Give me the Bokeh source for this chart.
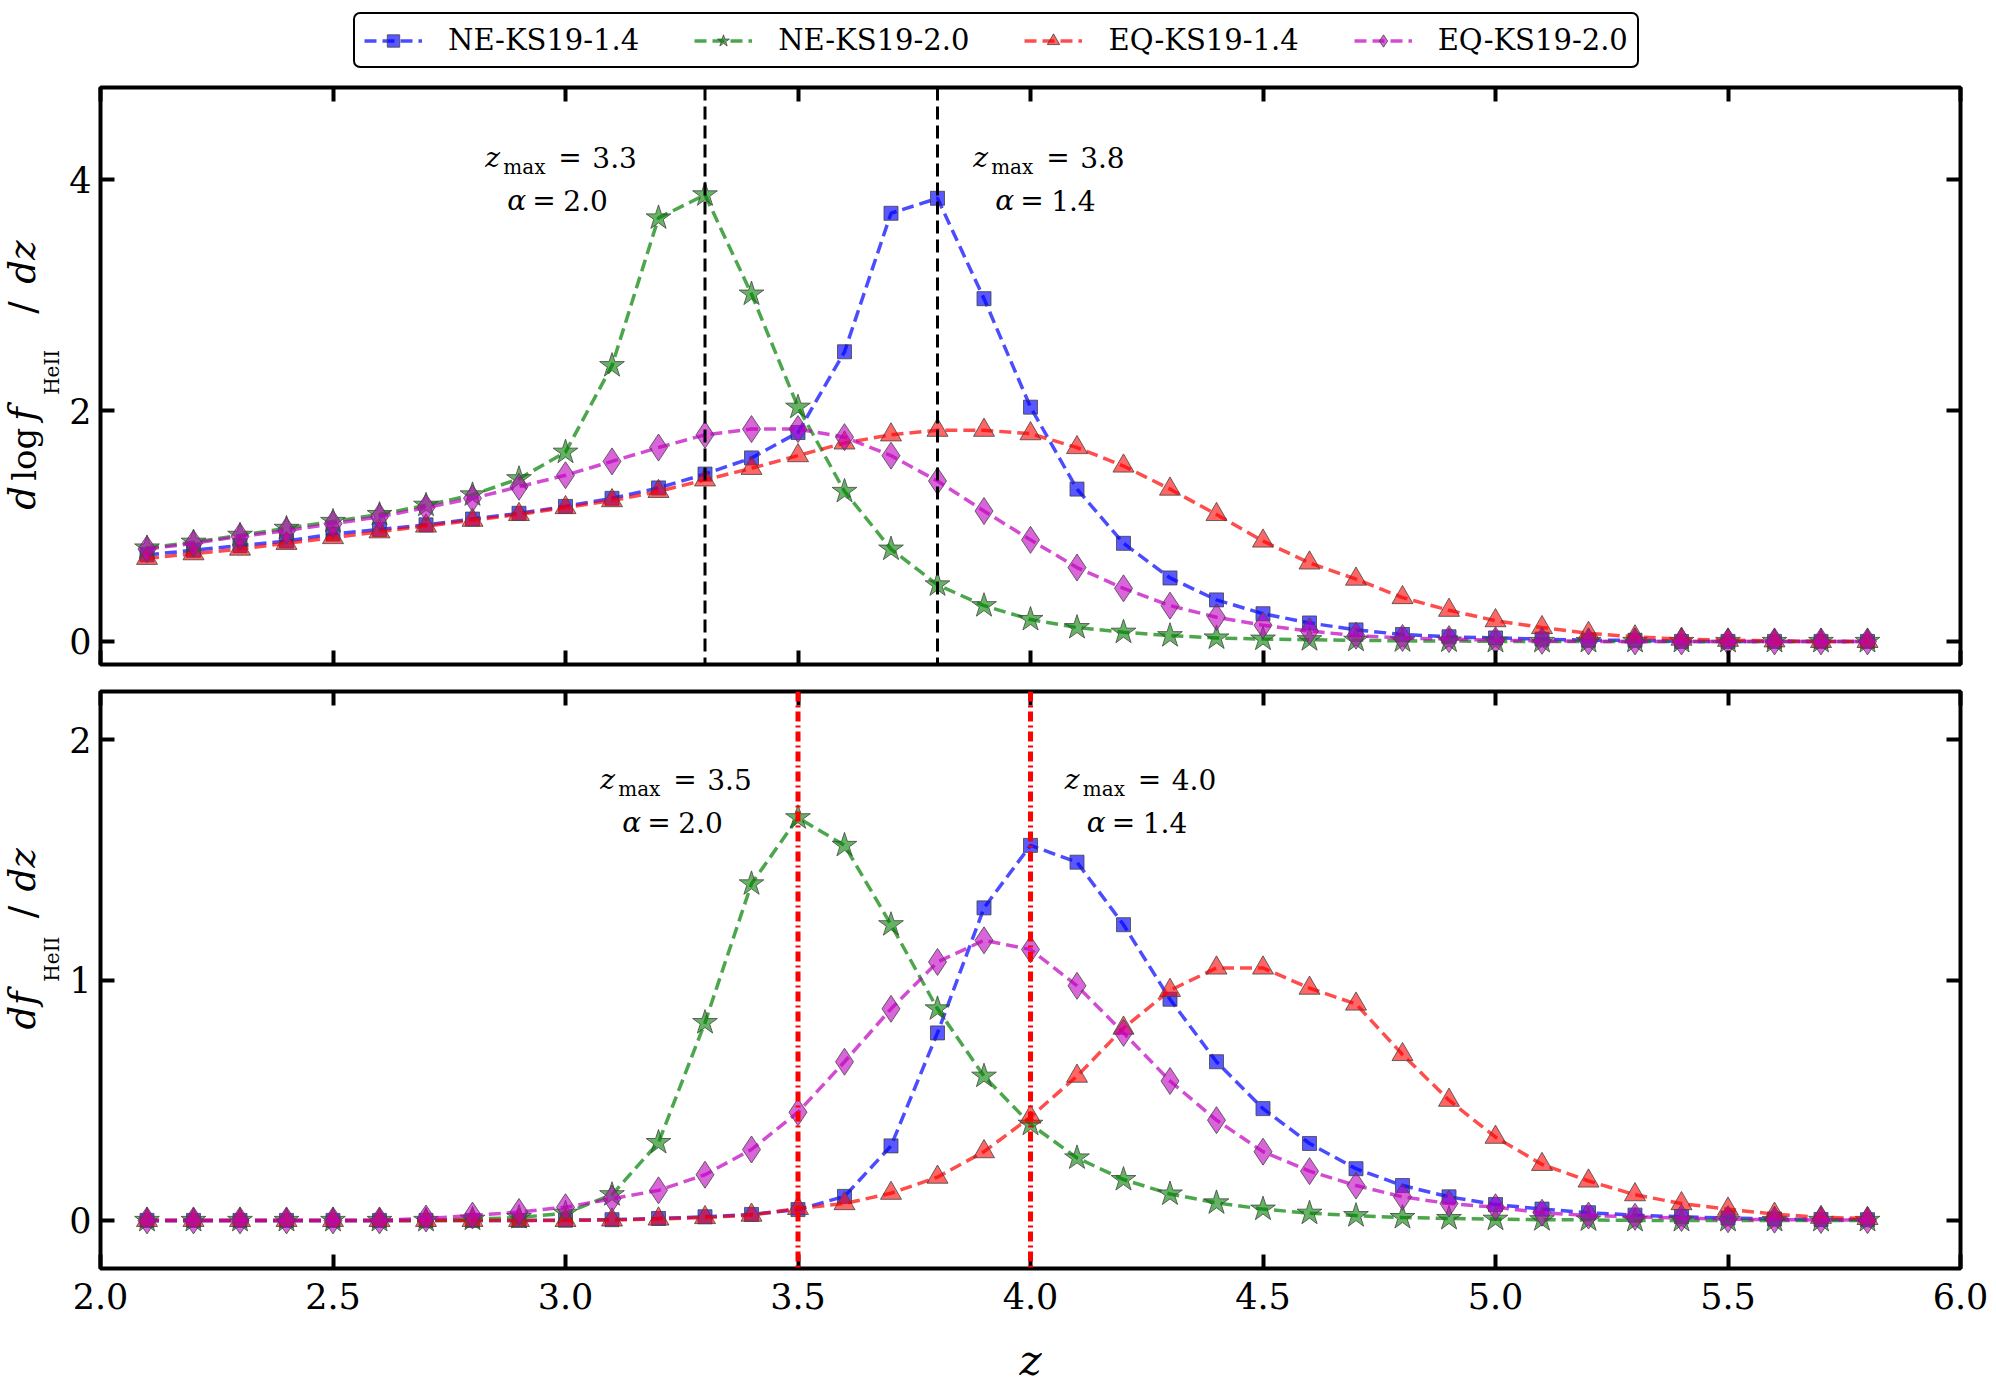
import math
from bokeh.plotting import figure
from bokeh.models import (Range1d, LinearAxis, FixedTicker, Span, Label, Legend,
                          LegendItem, PrintfTickFormatter)
from bokeh.layouts import column, row
from bokeh.embed import file_html
from bokeh.resources import INLINE

# ---------------- data ----------------
z = [2.1, 2.2, 2.3, 2.4, 2.5, 2.6, 2.7, 2.8, 2.9, 3.0,
     3.1, 3.2, 3.3, 3.4, 3.5, 3.6, 3.7, 3.8, 3.9, 4.0,
     4.1, 4.2, 4.3, 4.4, 4.5, 4.6, 4.7, 4.8, 4.9, 5.0,
     5.1, 5.2, 5.3, 5.4, 5.5, 5.6, 5.7, 5.8]

series_names = ["NE-KS19-1.4", "NE-KS19-2.0", "EQ-KS19-1.4", "EQ-KS19-2.0"]

# top panel: d log f_HeII / dz
ne14_top = [0.75, 0.79, 0.83, 0.87, 0.93, 0.97, 1.01, 1.06, 1.11, 1.17,
            1.24, 1.33, 1.45, 1.59, 1.81, 2.51, 3.71, 3.84, 2.97, 2.03,
            1.32, 0.85, 0.55, 0.36, 0.24, 0.16, 0.10, 0.06, 0.04, 0.03,
            0.02, 0.01, 0.01, 0.0, 0.0, 0.0, 0.0, 0.0]
ne20_top = [0.81, 0.86, 0.92, 0.98, 1.04, 1.10, 1.18, 1.27, 1.41, 1.64,
            2.39, 3.67, 3.87, 3.01, 2.03, 1.30, 0.80, 0.49, 0.31, 0.19,
            0.12, 0.08, 0.05, 0.03, 0.02, 0.015, 0.01, 0.005, 0.004, 0.0,
            0.0, 0.0, 0.0, 0.0, 0.0, 0.0, 0.0, 0.0]
eq14_top = [0.72, 0.76, 0.80, 0.85, 0.90, 0.95, 1.00, 1.05, 1.10, 1.16,
            1.22, 1.30, 1.40, 1.50, 1.61, 1.72, 1.79, 1.83, 1.83, 1.80,
            1.68, 1.52, 1.32, 1.10, 0.87, 0.68, 0.54, 0.38, 0.27, 0.18,
            0.12, 0.07, 0.04, 0.02, 0.01, 0.005, 0.0, 0.0]
eq20_top = [0.80, 0.85, 0.91, 0.96, 1.02, 1.08, 1.16, 1.24, 1.34, 1.44,
            1.56, 1.68, 1.79, 1.84, 1.84, 1.77, 1.61, 1.39, 1.13, 0.88,
            0.64, 0.46, 0.31, 0.21, 0.14, 0.09, 0.05, 0.03, 0.02, 0.01,
            0.005, 0.0, 0.0, 0.0, 0.0, 0.0, 0.0, 0.0]

# bottom panel: d f_HeII / dz
ne14_bot = [0.0, 0.0, 0.0, 0.0, 0.0, 0.0, 0.0, 0.0, 0.0, 0.001,
            0.003, 0.008, 0.015, 0.025, 0.045, 0.10, 0.31, 0.78, 1.30, 1.56,
            1.49, 1.23, 0.92, 0.66, 0.465, 0.32, 0.215, 0.145, 0.098, 0.066,
            0.047, 0.032, 0.022, 0.015, 0.010, 0.006, 0.004, 0.003]
ne20_bot = [0.0, 0.0, 0.0, 0.0, 0.0, 0.0, 0.0, 0.005, 0.012, 0.03,
            0.107, 0.324, 0.823, 1.40, 1.675, 1.56, 1.23, 0.88, 0.60, 0.40,
            0.26, 0.17, 0.11, 0.073, 0.047, 0.03, 0.02, 0.012, 0.008, 0.005,
            0.003, 0.002, 0.0, 0.0, 0.0, 0.0, 0.0, 0.0]
eq14_bot = [0.0, 0.0, 0.0, 0.0, 0.0, 0.0, 0.0, 0.0, 0.0, 0.0,
            0.002, 0.006, 0.012, 0.022, 0.05, 0.07, 0.113, 0.18, 0.286, 0.43,
            0.60, 0.80, 0.957, 1.05, 1.05, 0.966, 0.90, 0.69, 0.50, 0.346,
            0.233, 0.164, 0.107, 0.07, 0.047, 0.026, 0.013, 0.008]
eq20_bot = [0.0, 0.0, 0.0, 0.0, 0.0, 0.0, 0.008, 0.02, 0.035, 0.055,
            0.09, 0.125, 0.19, 0.295, 0.45, 0.66, 0.88, 1.075, 1.165, 1.127,
            0.976, 0.78, 0.58, 0.417, 0.286, 0.205, 0.145, 0.098, 0.07, 0.055,
            0.032, 0.02, 0.015, 0.01, 0.005, 0.003, 0.002, 0.001]

x_ticks = [2.0, 2.5, 3.0, 3.5, 4.0, 4.5, 5.0, 5.5, 6.0]
top_y_ticks = [0, 2, 4]
bot_y_ticks = [0, 1, 2]
top_vlines = [3.3, 3.8]
bot_vlines = [3.5, 4.0]
top_ann = [(3.004, "3.3", "2.0"), (4.053, "3.8", "1.4")]
bot_ann = [(3.251, "3.5", "2.0"), (4.250, "4.0", "1.4")]

# ---------------- styling ----------------
FONT = "DejaVu Serif"
colors = ["#0000ff", "#008000", "#ff0000", "#bf00bf"]
markers = ["square", "star", "triangle", "diamond"]
msizes = [14, 26, 21, 27]
falpha = [0.65, 0.6, 0.6, 0.6]
BASE_CORR = 0.35   # empirical shift of alphabetic baseline (fraction of font size)

YL_W = 66
MAIN_W = 1996 - YL_W


def make_fig(height, top, bottom, yr):
    p = figure(width=MAIN_W, height=height, x_range=Range1d(2.0, 6.0), y_range=Range1d(*yr),
               output_backend="svg", toolbar_location=None,
               min_border_left=99 - YL_W, min_border_right=36,
               min_border_top=top, min_border_bottom=bottom,
               x_axis_location=None, y_axis_location=None)
    p.grid.visible = False
    p.outline_line_color = "black"
    p.outline_line_width = 4
    p.outline_line_alpha = 1.0
    p.background_fill_color = "white"
    p.border_fill_color = "white"
    return p


def blank_fig(width, height, xr, yr):
    p = figure(width=width, height=height, x_range=Range1d(*xr), y_range=Range1d(*yr),
               output_backend="svg", toolbar_location=None,
               min_border_left=0, min_border_right=0, min_border_top=0, min_border_bottom=0,
               x_axis_location=None, y_axis_location=None)
    p.grid.visible = False
    p.outline_line_color = None
    p.background_fill_color = "white"
    p.border_fill_color = "white"
    return p


def add_axis(p, side, ticks, labels, fmt=None, label=None):
    ax = LinearAxis(ticker=FixedTicker(ticks=ticks), axis_line_color=None,
                    major_tick_in=14, major_tick_out=0, major_tick_line_width=4,
                    major_tick_line_color="black", minor_tick_line_color=None)
    if labels:
        ax.major_label_text_font = FONT
        ax.major_label_text_font_size = "35px"
        ax.major_label_text_color = "black"
        ax.major_label_standoff = 14 if side == "below" else 9
        if fmt:
            ax.formatter = PrintfTickFormatter(format=fmt)
    else:
        ax.major_label_text_font_size = "1px"
        ax.major_label_text_color = None
        ax.major_label_standoff = 0
    if label:
        ax.axis_label = label
        ax.axis_label_text_font = FONT
        ax.axis_label_text_font_style = "italic"
        ax.axis_label_text_font_size = "42px"
        ax.axis_label_standoff = 24
        ax.axis_label_text_color = "black"
    p.add_layout(ax, side)


def add_series(p, ys):
    out = []
    for i, y in enumerate(ys):
        ln = p.line(z, y, line_color=colors[i], line_alpha=0.7, line_width=3.5, line_dash="12 6")
        sc = p.scatter(z, y, marker=markers[i], size=msizes[i], fill_color=colors[i],
                       fill_alpha=falpha[i], line_color="#444444", line_alpha=0.8, line_width=1)
        out.append((ln, sc))
    return out


def add_ylabel(p, pieces, fig_h):
    # pieces: (text, size, style, baseline_x_px, start_y_px_from_top_of_this_fig)
    for text, size, style, bx, sy in pieces:
        p.add_layout(Label(x=bx - BASE_CORR * size, y=fig_h - sy, text=text,
                           angle=math.pi / 2, text_font=FONT, text_font_size=f"{size}px",
                           text_font_style=style, text_align="left",
                           text_baseline="alphabetic", text_color="black"))


def add_ann(p, cx, zval, aval, yb1_px, yb2_px, frame_top_px, ytop, ppu):
    def ydata(px, size):
        return ytop - (px - frame_top_px - BASE_CORR * size) / ppu
    for text, size, style, xo, ypx in [("z", 28, "italic", -82, yb1_px),
                                       ("max", 20, "normal", -64, yb1_px + 6.7),
                                       ("=", 28, "normal", -9, yb1_px),
                                       (zval, 28, "normal", 25, yb1_px),
                                       ("\u03b1", 28, "italic", -60, yb2_px),
                                       ("=", 28, "normal", -35, yb2_px),
                                       (aval, 28, "normal", -4, yb2_px)]:
        p.add_layout(Label(x=cx, y=ydata(ypx, size), x_offset=xo, text=text, text_font=FONT,
                           text_font_size=f"{size}px", text_font_style=style,
                           text_align="left", text_baseline="alphabetic", text_color="black"))


# ---------------- legend strip ----------------
LEG_H = 80
leg_fig = blank_fig(1996, LEG_H, (0, 1), (0, 1))   # series data lie outside this range
leg_items = []
for i, y in enumerate([ne14_top, ne20_top, eq14_top, eq20_top]):
    ln = leg_fig.line(z, y, line_color=colors[i], line_alpha=0.7, line_width=3.5,
                      line_dash="12 6")
    sc = leg_fig.scatter(z, y, marker=markers[i], size=msizes[i], fill_color=colors[i],
                         fill_alpha=falpha[i], line_color="#444444", line_alpha=0.8, line_width=1)
    leg_items.append(LegendItem(label=series_names[i], renderers=[ln, sc]))
legend = Legend(items=leg_items, orientation="horizontal", location=(353, 12),
                border_line_color="black", border_line_width=2, border_line_alpha=1.0,
                background_fill_color="white", background_fill_alpha=1.0,
                label_text_font=FONT, label_text_font_size="29px", label_text_color="black",
                glyph_width=58, glyph_height=31, label_standoff=26, spacing=55,
                padding=9, margin=0, label_width=190, label_height=31)
try:
    legend.border_radius = 7
except Exception:
    pass
leg_fig.add_layout(legend, "center")

# ---------------- top panel ----------------
TOP_H = 597
p1 = make_fig(TOP_H, 7, 13, (-0.2, 4.8))
add_axis(p1, "left", top_y_ticks, True)
add_axis(p1, "right", top_y_ticks, False)
add_axis(p1, "below", x_ticks, False)
add_axis(p1, "above", x_ticks, False)
add_series(p1, [ne14_top, ne20_top, eq14_top, eq20_top])
for v in top_vlines:
    p1.add_layout(Span(location=v, dimension="height", line_color="black",
                       line_width=3, line_dash="13 6"))
for cx, zv, av in top_ann:
    add_ann(p1, cx, zv, av, 166.7 - LEG_H, 210.0 - LEG_H, 7, 4.8, 115.3)

BX = 35
yl1 = blank_fig(YL_W, TOP_H, (0, YL_W), (0, TOP_H))
off1 = LEG_H
add_ylabel(yl1, [("d", 37, "italic", BX, 517 - off1),
                 ("log", 34, "normal", BX, 487 - off1),
                 ("f", 37, "italic", BX, 425 - off1),
                 ("HeII", 20, "normal", BX + 23, 398 - off1),
                 ("/", 37, "normal", BX, 314 - off1),
                 ("dz", 37, "italic", BX, 283 - off1)], TOP_H)

# ---------------- bottom panel ----------------
BOT_H = 710
p2 = make_fig(BOT_H, 14, 119, (-0.2, 2.2))
add_axis(p2, "left", bot_y_ticks, True)
add_axis(p2, "right", bot_y_ticks, False)
add_axis(p2, "below", x_ticks, True, fmt="%.1f", label="z")
add_axis(p2, "above", x_ticks, False)
add_series(p2, [ne14_bot, ne20_bot, eq14_bot, eq20_bot])
for v in bot_vlines:
    p2.add_layout(Span(location=v, dimension="height", line_color="red",
                       line_width=5, line_dash="10 4 2 4"))
off2 = LEG_H + TOP_H
for cx, zv, av in bot_ann:
    add_ann(p2, cx, zv, av, 788.0 - off2, 831.0 - off2, 14, 2.2, 239.5)

yl2 = blank_fig(YL_W, BOT_H, (0, YL_W), (0, BOT_H))
add_ylabel(yl2, [("d", 37, "italic", BX, 1093 - off2),
                 ("f", 37, "italic", BX, 1063 - off2),
                 ("HeII", 20, "normal", BX + 23, 1034 - off2),
                 ("/", 37, "normal", BX, 956 - off2),
                 ("dz", 37, "italic", BX, 923 - off2)], BOT_H)

layout = column(leg_fig, row(yl1, p1, spacing=0), row(yl2, p2, spacing=0), spacing=0)
open("out.html", "w").write(file_html(layout, INLINE))
